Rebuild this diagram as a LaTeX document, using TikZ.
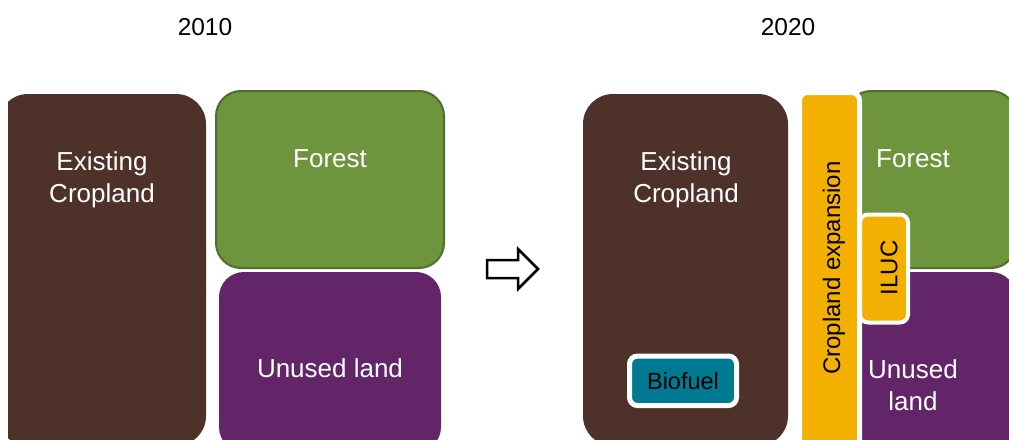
\documentclass[tikz,border=0pt]{standalone}
\usepackage{fontspec}
\setmainfont{Liberation Sans}
\usetikzlibrary{calc}

\definecolor{soilbrown}{RGB}{78,50,41}
\definecolor{forestgreen}{RGB}{110,148,62}
\definecolor{forestedge}{RGB}{80,110,45}
\definecolor{unusedpurple}{RGB}{98,37,104}
\definecolor{fueltel}{RGB}{0,122,147}
\definecolor{expyellow}{RGB}{244,176,0}

\tikzset{
  landbox/.style={rectangle, rounded corners=#1, inner sep=0pt, outer sep=0pt, anchor=north west},
  whitetext/.style={text=white, align=center, font=\fontsize{26}{32}\selectfont, anchor=base},
  blacktext/.style={text=black, align=center, font=\fontsize{24}{30}\selectfont},
  yeartext/.style={text=black, font=\fontsize{24.5}{30}\selectfont, anchor=base}
}

\begin{document}
\begin{tikzpicture}[x=1pt,y=-1pt]
    \useasboundingbox (0,0) rectangle (1009,439);
    \begin{scope}
        \clip (8,0) rectangle (1009,439);
        % 2010
        \node[landbox=30pt, fill=soilbrown, minimum width=208pt, minimum height=352pt] (crop1) at (-2,94) {};
        \node[landbox=25pt, fill=forestgreen, draw=forestedge, line width=2pt, minimum width=228pt, minimum height=177pt] (forest1) at (216,91) {};
        \node[landbox=25pt, fill=unusedpurple, minimum width=222pt, minimum height=180pt] (unused1) at (219,272) {};
        \node[whitetext] (crop1lbl) at (102,202) {Existing\\Cropland};
        \node[whitetext] (forest1lbl) at (330,167) {Forest};
        \node[whitetext] (unused1lbl) at (330,377) {Unused land};
        % 2020
        \node[landbox=30pt, fill=soilbrown, minimum width=205pt, minimum height=352pt] (crop2) at (583,94) {};
        \node[landbox=25pt, fill=forestgreen, draw=forestedge, line width=2pt, minimum width=170pt, minimum height=177pt] (forest2) at (846,91) {};
        \node[landbox=25pt, fill=unusedpurple, minimum width=170pt, minimum height=180pt] (unused2) at (846,272) {};
        \node[landbox=8pt, fill=expyellow, draw=white, line width=5pt, minimum width=60pt, minimum height=380pt] (expand) at (799.5,92.5) {};
        \node[landbox=8pt, fill=expyellow, draw=white, line width=4pt, minimum width=48pt, minimum height=108pt] (iluc) at (860,214.5) {};
        \node[landbox=8pt, fill=fueltel, draw=white, line width=5pt, minimum width=107pt, minimum height=49.5pt] (biofuel) at (629.5,356) {};
        \node[whitetext] (crop2lbl) at (686,202) {Existing\\Cropland};
        \node[whitetext] (forest2lbl) at (913,167) {Forest};
        \node[whitetext] (unused2lbl) at (913,410) {Unused\\land};
        \node[blacktext, rotate=90] (expandlbl) at (834,268) {Cropland expansion};
        \node[blacktext, rotate=90] (iluclbl) at (889,268) {ILUC};
        \node[blacktext, font=\fontsize{23.5}{28}\selectfont] (biofuellbl) at (biofuel.center) {Biofuel};
    \end{scope}
    % years and arrow
    \node[yeartext] (y2010) at (205,35) {2010};
    \node[yeartext] (y2020) at (788,35) {2020};
    \draw[line width=2.5pt, fill=white, line join=miter] (487,260)--(518,260)--(518,249)--(538,269)--(518,289)--(518,278)--(487,278)--cycle;
\end{tikzpicture}
\end{document}
